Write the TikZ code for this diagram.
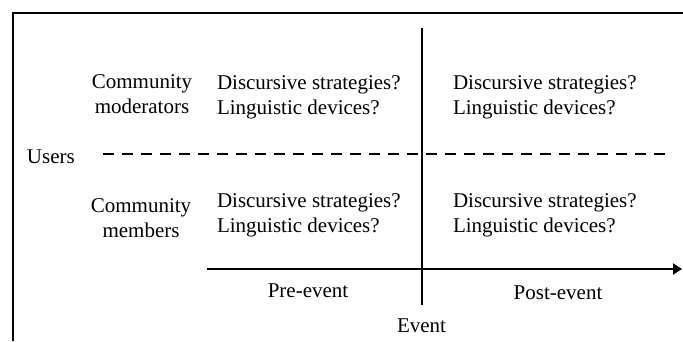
\documentclass[tikz,border=0pt]{standalone}
\usepackage{fontspec}
\setmainfont{Liberation Serif}
\usetikzlibrary{arrows.meta}
\begin{document}
\begin{tikzpicture}[x=1pt,y=-1pt,
  every node/.style={font=\fontsize{21}{24.5}\selectfont, inner sep=0pt, outer sep=0pt},
  cell/.style={anchor=base west, align=left},
  role/.style={anchor=base, align=center},
  axisline/.style={line width=2pt, black},
  usersplit/.style={line width=2.3pt, dash pattern=on 11pt off 8pt}]
  \useasboundingbox (0,0) rectangle (683,341);
  % outer frame (top and left edges)
  \draw[line width=2pt] (683,13) -- (12.5,13) -- (12.5,341);

  % time axis and event line
  \coordinate (tstart) at (207,269);
  \coordinate (tend) at (682,269);
  \coordinate (etop) at (421.5,28);
  \coordinate (ebot) at (421.5,305);
  \draw[axisline] (etop) -- (ebot);
  \draw[axisline, -{Triangle[length=9pt,width=11pt]}] (tstart) -- (tend);

  % separator between user groups
  \coordinate (dstart) at (103,154);
  \coordinate (dend) at (670,154);
  \draw[usersplit] (dstart) -- (dend);

  % labels (base of a two-line node is the last line's baseline)
  \node[anchor=base west] (users) at (27,163) {Users};
  \node[role] (mods) at (142,113) {Community\\moderators};
  \node[role] (members) at (141,237) {Community\\members};

  \node[cell] (ul) at (217,114) {Discursive strategies?\\Linguistic devices?};
  \node[cell] (ur) at (453,114) {Discursive strategies?\\Linguistic devices?};
  \node[cell] (ll) at (217,232) {Discursive strategies?\\Linguistic devices?};
  \node[cell] (lr) at (453,232) {Discursive strategies?\\Linguistic devices?};

  \node[anchor=base] (pre) at (308,297) {Pre-event};
  \node[anchor=base] (post) at (558,299) {Post-event};
  \node[anchor=base] (event) at (421.5,332) {Event};
\end{tikzpicture}
\end{document}
